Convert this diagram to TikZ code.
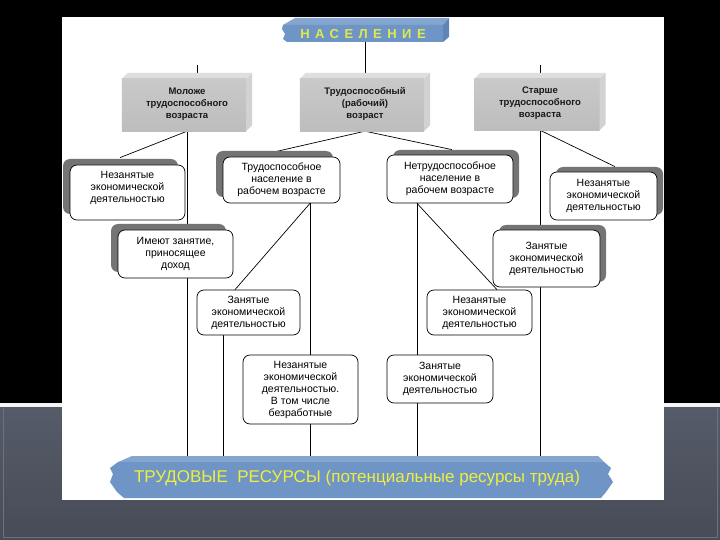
\documentclass[tikz,border=0pt]{standalone}
\usepackage{fontspec}
\setmainfont{Liberation Sans}
\usetikzlibrary{calc,shadows}
\pgfdeclarelayer{pagebg}
\pgfdeclarelayer{lines}
\pgfdeclarelayer{faces}
\pgfsetlayers{pagebg,lines,faces,main}
\definecolor{shadowgray}{HTML}{747474}
\definecolor{gtop}{HTML}{DEDEDE}
\definecolor{gbodyA}{HTML}{C9C9C9}
\definecolor{gbodyB}{HTML}{BDBDBD}
\definecolor{gside}{HTML}{D2D2D2}
\definecolor{bannerbody}{HTML}{6F95C6}
\definecolor{bannertop}{HTML}{84A5D0}
\definecolor{bannerside}{HTML}{5F84B6}
\definecolor{yeltext}{HTML}{F0EE3C}
\definecolor{naselText}{HTML}{DCEA4E}
\definecolor{slateA}{HTML}{555B68}
\definecolor{slateB}{HTML}{474C57}
\definecolor{slateline}{HTML}{6C7280}
\newcommand{\grayfaces}[1]{%
  \fill[gtop] ($(#1.north west)+(0,6)$) -- ($(#1.north west)+(6,0)$) -- (#1.north east) -- ($(#1.north east)+(-6,6)$) -- cycle;
  \shade[top color=gbodyA, bottom color=gbodyB] ($(#1.north west)+(0,6)$) rectangle ($(#1.south east)+(-6,0)$);
  \fill[gside] ($(#1.north east)+(-6,6)$) -- (#1.north east) -- ($(#1.south east)+(0,-6)$) -- ($(#1.south east)+(-6,0)$) -- cycle;
}
\begin{document}
\begin{tikzpicture}[x=1pt,y=-1pt,
  rbox/.style={draw=black, line width=0.7pt, fill=white, rounded corners=7pt, align=center,
    font=\fontsize{10.5}{12}\selectfont, inner sep=1pt},
  shUL/.style={general shadow={fill=shadowgray, shadow xshift=-7pt, shadow yshift=6pt}},
  shUR/.style={general shadow={fill=shadowgray, shadow xshift=6pt, shadow yshift=5pt}},
  gbox/.style={align=center, font=\bfseries\fontsize{9.5}{12}\selectfont, inner sep=0pt, text=black!90},
  conn/.style={draw=black, line width=0.7pt}]
\useasboundingbox (0,0) rectangle (720,540);
% page background
\begin{pgfonlayer}{pagebg}
  \fill[black] (0,0) rectangle (720,405);
  \fill[white!92!gray] (0,403) rectangle (720,407);
  \shade[top color=slateA, bottom color=slateB] (0,407) rectangle (720,540);
  \draw[slateline, line width=0.8pt] (3,408) -- (3,537) -- (717,537) -- (717,408);
  \fill[white] (62,17) rectangle (664,500);
\end{pgfonlayer}

% banners (text nodes)
\node[font=\bfseries\fontsize{13}{15}\selectfont\addfontfeatures{LetterSpace=42}, text=naselText,
      minimum height=16pt, inner sep=0pt] (nas) at (363,34) {НАСЕЛЕНИЕ};
\node[font=\fontsize{17}{20}\selectfont, text=yeltext, minimum height=42pt, inner sep=0pt]
      (tr) at (357,478) {ТРУДОВЫЕ\ \ РЕСУРСЫ (потенциальные ресурсы труда)};

% gray 3D boxes
\node[gbox, minimum width=130pt, minimum height=58pt] (mol) at (187,102) {\\[-2pt]Моложе\\трудоспособного\\возраста};
\node[gbox, minimum width=130pt, minimum height=58pt] (trud) at (365,102) {\\[-2pt]Трудоспособный\\(рабочий)\\возраст};
\node[gbox, minimum width=131pt, minimum height=57pt] (star) at (540,101.5) {\\[-2pt]Старше\\трудоспособного\\возраста};

% rounded boxes
\node[rbox, shUL, minimum width=115pt, minimum height=55pt] (nez1) at (127.5,192.5) {Незанятые\\экономической\\деятельностью\\\mbox{}};
\node[rbox, shUL, minimum width=117pt, minimum height=46pt] (tsp) at (281.5,180) {Трудоспособное\\население в\\рабочем возрасте};
\node[rbox, shUR, minimum width=126pt, minimum height=48pt] (ntsp) at (450,179) {Нетрудоспособное\\население в\\рабочем возрасте};
\node[rbox, shUR, minimum width=107pt, minimum height=48pt] (nez2) at (603.5,196) {Незанятые\\экономической\\деятельностью};
\node[rbox, shUL, minimum width=115pt, minimum height=48pt] (imeut) at (175.5,254) {Имеют занятие,\\приносящее\\доход};
\node[rbox, shUR, minimum width=107pt, minimum height=57pt] (zan3) at (546.5,258.5) {Занятые\\экономической\\деятельностью};
\node[rbox, minimum width=103pt, minimum height=45pt] (zan1) at (248.5,312.5) {Занятые\\экономической\\деятельностью};
\node[rbox, minimum width=105pt, minimum height=45pt] (nez3) at (479.5,312.5) {Незанятые\\экономической\\деятельностью};
\node[rbox, minimum width=115pt, minimum height=69pt] (nez4) at (300.5,389.5) {Незанятые\\экономической\\деятельностью.\\В том числе\\безработные};
\node[rbox, minimum width=106pt, minimum height=48pt] (zan2) at (440,379) {Занятые\\экономической\\деятельностью};

% faces
\begin{pgfonlayer}{faces}
  \grayfaces{mol}
  \grayfaces{trud}
  \grayfaces{star}
  % top banner
  \fill[bannertop] (283,25) -- (295,18) -- (449,18) -- (443,25) -- cycle;
  \fill[bannerbody] (283,25) -- (443,25) -- (443,42) -- (287,42) -- (283,39) -- (285,34) -- (282,29) -- cycle;
  \fill[bannerside] (443,25) -- (449,18) -- (449,37) -- (443,42) -- cycle;
  % bottom banner
  \fill[bannertop] (118,462) -- (132,456) -- (598,456) -- (604,462) -- cycle;
  \fill[bannerbody] (118,462) -- (604,462) -- (611,468) -- (608,474) -- (613,482) -- (606,492)
     -- (601,498) -- (124,498) -- (117,492) -- (110,482) -- (113,474) -- (110,468) -- cycle;
\end{pgfonlayer}

% connectors
\begin{pgfonlayer}{lines}
  \coordinate (s1) at (197,65);
  \coordinate (s2) at (540,65);
  \coordinate (t1) at ($(tsp.south)+(28.5,0)$);
  \coordinate (n1) at ($(ntsp.south)+(-33,0)$);
  \coordinate (z1) at ($(zan1.south)+(-25.5,0)$);
  \draw[conn] (trud.north |- nas.south) -- (trud.north);
  \draw[conn] (s1) -- (s1 |- mol.north);
  \draw[conn] (s2) -- (s2 |- star.north);
  \draw[conn] (mol.south) -- ($(nez1.north)+(-7.5,-7)$);
  \draw[conn] (mol.south) -- (mol.south |- tr.north);
  \draw[conn] (trud.south) -- ($(tsp.north)+(-6,-5)$);
  \draw[conn] (trud.south) -- ($(ntsp.north)+(2,-5)$);
  \draw[conn] (star.south) -- (star.south |- tr.north);
  \draw[conn] (star.south) -- ($(nez2.north)+(11.5,-5)$);
  \draw[conn] (t1) -- ($(zan1.north)+(-13.5,0)$);
  \draw[conn] (t1) -- (t1 |- nez4.north);
  \draw[conn] (t1 |- nez4.south) -- (t1 |- tr.north);
  \draw[conn] (n1) -- ($(nez3.north)+(17.5,0)$);
  \draw[conn] (n1) -- (n1 |- tr.north);
  \draw[conn] (z1) -- (z1 |- tr.north);
\end{pgfonlayer}
\end{tikzpicture}
\end{document}
